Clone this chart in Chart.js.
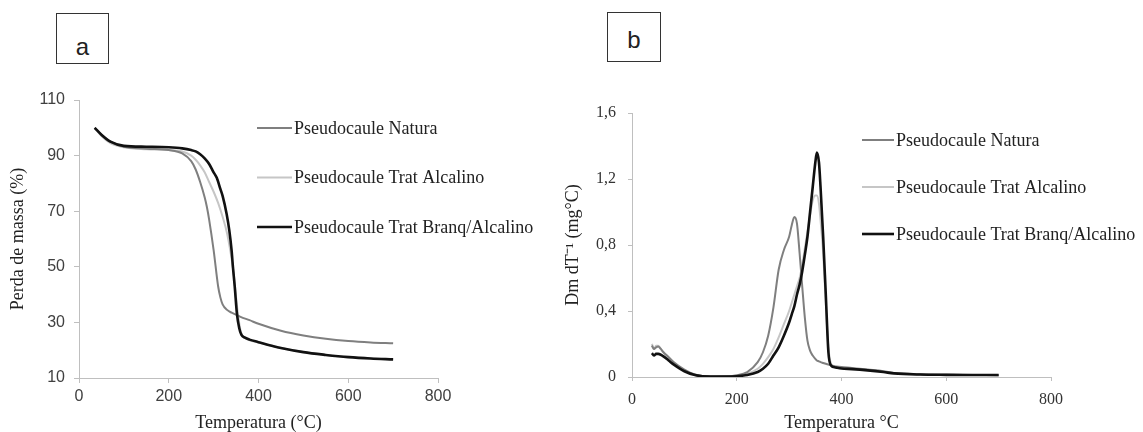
<!DOCTYPE html>
<html>
<head>
<meta charset="utf-8">
<script src="https://cdn.jsdelivr.net/npm/chart.js@4"></script>
<style>
  html, body { margin: 0; padding: 0; background: #fff; }
  body { width: 1143px; height: 432px; position: relative; overflow: hidden; }
  canvas { position: absolute; top: 0; }
  #tga { left: 0; }
  #dtg { left: 551px; }
  .tag { position: absolute; border: 1.5px solid #333; box-sizing: border-box; font-family: "Liberation Sans", Arial, sans-serif; font-size: 24px; color: #222; }
  .tag span { position: absolute; left: 0; right: 0; text-align: center; }
</style>
</head>
<body>
<div class="tag" style="left:56px; top:13px; width:53px; height:51px;"><span style="top:19px;">a</span></div>
<div class="tag" style="left:607px; top:12px; width:54px; height:50px;"><span style="top:13px;">b</span></div>
<canvas id="tga" width="551" height="432"></canvas>
<canvas id="dtg" width="592" height="432"></canvas>
<script>
const seriesNames = ['Pseudocaule Natura', 'Pseudocaule Trat Alcalino', 'Pseudocaule Trat Branq/Alcalino'];

// curva a: perda de massa (%)
const tgaNaturaT = [35, 50, 70, 100, 150, 200, 230, 250, 260, 270, 280, 285, 290, 300, 310, 315, 320, 330, 340, 350, 360, 380, 400, 450, 500, 550, 600, 650, 700];
const tgaNatura  = [100, 97.5, 95, 93.2, 92.5, 92, 90.8, 88, 85, 80.5, 75, 71.5, 67, 56, 43, 39, 36.5, 34.5, 33.5, 32.8, 32, 30.8, 29.5, 27, 25.3, 24.1, 23.3, 22.8, 22.5];

const tgaAlcT = [35, 50, 70, 100, 150, 200, 230, 250, 260, 270, 280, 290, 300, 310, 320, 330, 340, 345, 350, 355, 360, 365, 370, 380, 400, 450, 500, 550, 600, 650, 700];
const tgaAlc  = [100, 97, 94.5, 93, 92.3, 92, 91.5, 90, 88.5, 86.5, 84, 80.5, 77, 73, 68, 62, 53, 47, 39, 32, 27, 25, 24.3, 23.6, 22.8, 20.8, 19.4, 18.3, 17.6, 17.1, 16.7];

const tgaBranqT = [35, 50, 70, 100, 150, 200, 230, 250, 260, 270, 280, 290, 300, 307, 315, 320, 329, 335, 340, 343, 347, 352, 357, 362, 370, 380, 400, 420, 450, 500, 550, 600, 650, 700];
const tgaBranq  = [100, 97.5, 95, 93.5, 93.2, 93, 92.6, 92, 91.5, 90.5, 89, 87, 84, 82, 78, 75.5, 69, 63, 56, 50, 43, 33, 28, 25.5, 24.5, 23.8, 22.9, 22, 20.8, 19.3, 18.3, 17.5, 17, 16.7];

// curva b: DTG
const dtgT = [38, 42, 46, 50, 55, 60, 70, 80, 100, 120, 150, 180, 200, 220, 240, 250, 260, 270, 280, 290, 300, 305, 310, 315, 320, 325, 330, 335, 340, 345, 350, 353, 357, 360, 365, 370, 375, 380, 385, 390, 400, 420, 450, 480, 500, 550, 600, 650, 700];
const dtgNatura = [0.19, 0.17, 0.18, 0.185, 0.17, 0.15, 0.12, 0.09, 0.045, 0.015, 0.003, 0.004, 0.01, 0.03, 0.09, 0.15, 0.25, 0.42, 0.65, 0.77, 0.85, 0.92, 0.97, 0.93, 0.75, 0.55, 0.36, 0.22, 0.16, 0.13, 0.11, 0.1, 0.095, 0.09, 0.085, 0.08, 0.075, 0.07, 0.067, 0.064, 0.06, 0.055, 0.045, 0.035, 0.025, 0.016, 0.013, 0.012, 0.011];
const dtgAlc    = [0.2, 0.17, 0.19, 0.19, 0.17, 0.15, 0.12, 0.085, 0.04, 0.014, 0.003, 0.003, 0.008, 0.02, 0.05, 0.08, 0.12, 0.17, 0.24, 0.32, 0.4, 0.45, 0.5, 0.55, 0.6, 0.68, 0.78, 0.88, 0.98, 1.07, 1.1, 1.1, 1.05, 0.95, 0.75, 0.45, 0.18, 0.08, 0.065, 0.06, 0.055, 0.05, 0.042, 0.032, 0.024, 0.016, 0.013, 0.012, 0.011];
const dtgBranq  = [0.145, 0.13, 0.14, 0.14, 0.135, 0.125, 0.1, 0.075, 0.035, 0.012, 0.002, 0.002, 0.005, 0.012, 0.03, 0.05, 0.08, 0.13, 0.18, 0.25, 0.33, 0.38, 0.43, 0.5, 0.56, 0.64, 0.74, 0.85, 1.0, 1.15, 1.3, 1.36, 1.3, 1.15, 0.85, 0.5, 0.15, 0.07, 0.06, 0.057, 0.052, 0.048, 0.04, 0.03, 0.022, 0.015, 0.013, 0.012, 0.012];

const colors = ['#7f7f7f', '#c6c6c6', '#111111'];
const widths = [2, 2, 2.6];
const drawOrder = [2, 3, 1];

const serif = '"Liberation Serif", "Times New Roman", serif';
const sans = '"Liberation Sans", Arial, sans-serif';

function pts(xs, ys) {
  return xs.map((x, i) => ({ x: x, y: ys[i] }));
}

function makeSets(list) {
  return list.map((d, i) => ({
    label: seriesNames[i],
    data: d,
    borderColor: colors[i],
    backgroundColor: colors[i],
    borderWidth: widths[i],
    pointRadius: 0,
    fill: false,
    cubicInterpolationMode: 'monotone',
    order: drawOrder[i]
  }));
}

// legenda desenhada por cima da area do grafico, como no original
const lineLegend = {
  id: 'lineLegend',
  afterDraw(chart, args, opts) {
    const ctx = chart.ctx;
    ctx.save();
    chart.data.datasets.forEach((ds, i) => {
      const y = opts.y + i * opts.gap;
      ctx.strokeStyle = ds.borderColor;
      ctx.lineWidth = ds.borderWidth;
      ctx.beginPath();
      ctx.moveTo(opts.x, y);
      ctx.lineTo(opts.x + opts.len, y);
      ctx.stroke();
      ctx.fillStyle = '#222';
      ctx.font = '18px ' + serif;
      ctx.textBaseline = 'middle';
      ctx.fillText(ds.label, opts.x + opts.len + 2, y + 1);
    });
    ctx.restore();
  }
};

function axis(extra) {
  return Object.assign({
    type: 'linear',
    grid: { drawOnChartArea: false, drawTicks: true, tickLength: 5, color: '#bfbfbf' },
    border: { color: '#bfbfbf', width: 1 }
  }, extra);
}

new Chart(document.getElementById('tga'), {
  type: 'line',
  data: { datasets: makeSets([pts(tgaNaturaT, tgaNatura), pts(tgaAlcT, tgaAlc), pts(tgaBranqT, tgaBranq)]) },
  options: {
    responsive: false,
    animation: false,
    layout: { padding: { left: 0, top: 100, right: 113, bottom: 0 } },
    plugins: {
      legend: { display: false },
      tooltip: { enabled: false },
      lineLegend: { x: 257, y: 128, gap: 49.5, len: 35 }
    },
    scales: {
      x: axis({
        min: 0, max: 800,
        ticks: { stepSize: 200, padding: 4, color: '#404040', font: { family: sans, size: 16 } },
        title: { display: true, text: 'Temperatura (°C)', color: '#222', padding: 0, font: { family: serif, size: 18, lineHeight: 1 } },
        afterFit: s => { s.height = 54; }
      }),
      y: axis({
        min: 10, max: 110,
        ticks: { stepSize: 20, padding: 9, color: '#404040', font: { family: sans, size: 16 } },
        title: { display: true, text: 'Perda de massa (%)', color: '#222', padding: { top: 9 }, font: { family: serif, size: 18, lineHeight: 1 } },
        afterFit: s => { s.width = 79; }
      })
    }
  },
  plugins: [lineLegend]
});

new Chart(document.getElementById('dtg'), {
  type: 'line',
  data: { datasets: makeSets([pts(dtgT, dtgNatura), pts(dtgT, dtgAlc), pts(dtgT, dtgBranq)]) },
  options: {
    responsive: false,
    animation: false,
    layout: { padding: { left: 0, top: 113, right: 92, bottom: 0 } },
    plugins: {
      legend: { display: false },
      tooltip: { enabled: false },
      lineLegend: { x: 311, y: 140, gap: 47, len: 32 }
    },
    scales: {
      x: axis({
        min: 0, max: 800,
        grid: { drawOnChartArea: false, drawTicks: true, tickLength: 4, color: '#bfbfbf' },
        ticks: { stepSize: 200, padding: 9, color: '#333', font: { family: serif, size: 16 } },
        title: { display: true, text: 'Temperatura °C', color: '#222', padding: 0, font: { family: serif, size: 18, lineHeight: 1 } },
        afterFit: s => { s.height = 55; }
      }),
      y: axis({
        min: 0, max: 1.6,
        grid: { drawOnChartArea: false, drawTicks: true, tickLength: 4, color: '#bfbfbf' },
        ticks: {
          stepSize: 0.4, padding: 12, color: '#333', font: { family: serif, size: 16 },
          callback: v => v === 0 ? '0' : v.toFixed(1).replace('.', ',')
        },
        title: { display: true, text: 'Dm dT⁻¹ (mg°C)', color: '#222', padding: { top: 13 }, font: { family: serif, size: 18, lineHeight: 1 } },
        afterFit: s => { s.width = 81; }
      })
    }
  },
  plugins: [lineLegend]
});
</script>
</body>
</html>
